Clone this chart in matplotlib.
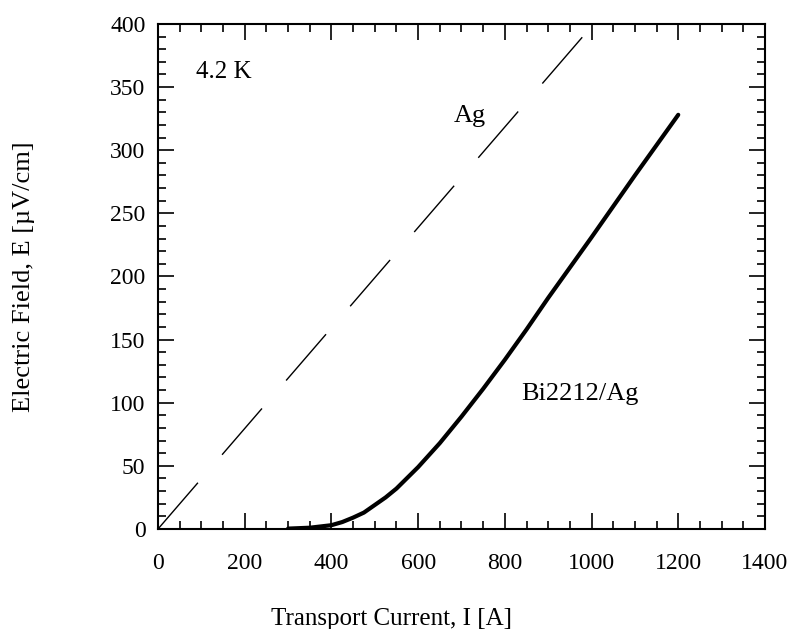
import matplotlib
matplotlib.use("Agg")
import matplotlib.pyplot as plt
from matplotlib.ticker import MultipleLocator

# Ag reference line (dashed)
ag_current = [0, 980]
ag_field = [0, 390]

# Bi2212/Ag conductor E-I curve
bi_current = [300, 350, 400, 425, 450, 475, 500, 525, 550, 600, 650, 700, 750, 800, 850, 900, 1000, 1100, 1200]
bi_field = [0.3, 1.0, 3.0, 5.5, 9, 13, 19, 25, 32, 49, 68, 89, 111, 134, 158, 183, 231, 280, 328]

x_ticks = [0, 200, 400, 600, 800, 1000, 1200, 1400]
y_ticks = [0, 50, 100, 150, 200, 250, 300, 350, 400]

plt.rcParams['font.family'] = ['Liberation Serif', 'DejaVu Serif']

fig = plt.figure(figsize=(7.96, 6.29), dpi=100)
ax = fig.add_axes([0.1985, 0.159, 0.7625, 0.803])

ax.plot(ag_current, ag_field, color='black', linewidth=1.0, dashes=(44, 26.6))
ax.plot(bi_current, bi_field, color='black', linewidth=3.0,
        solid_capstyle='round', solid_joinstyle='round')

ax.set_xlim(0, 1400)
ax.set_ylim(0, 400)
ax.set_xticks(x_ticks)
ax.set_yticks(y_ticks)
ax.xaxis.set_minor_locator(MultipleLocator(50))
ax.yaxis.set_minor_locator(MultipleLocator(10))
ax.tick_params(which='both', direction='in', top=True, right=True, width=1.2, labelsize=17)
ax.tick_params(which='major', length=11.5)
ax.tick_params(which='minor', length=6)
ax.tick_params(axis='x', pad=17)
ax.tick_params(axis='y', pad=9)
for s in ax.spines.values():
    s.set_linewidth(1.5)

ax.set_xlabel('Transport Current, I [A]', fontsize=18)
ax.xaxis.set_label_coords(0.385, -0.157)
ax.set_ylabel('Electric Field, E [µV/cm]', fontsize=19)
ax.yaxis.set_label_coords(-0.202, 0.5)

ax.text(88, 362, '4.2 K', fontsize=18, va='center', ha='left')
ax.text(683, 322, 'Ag', fontsize=19, va='baseline', ha='left')
ax.text(838, 107, 'Bi2212/Ag', fontsize=19, va='center', ha='left')

fig.savefig('out.png', dpi=100)
